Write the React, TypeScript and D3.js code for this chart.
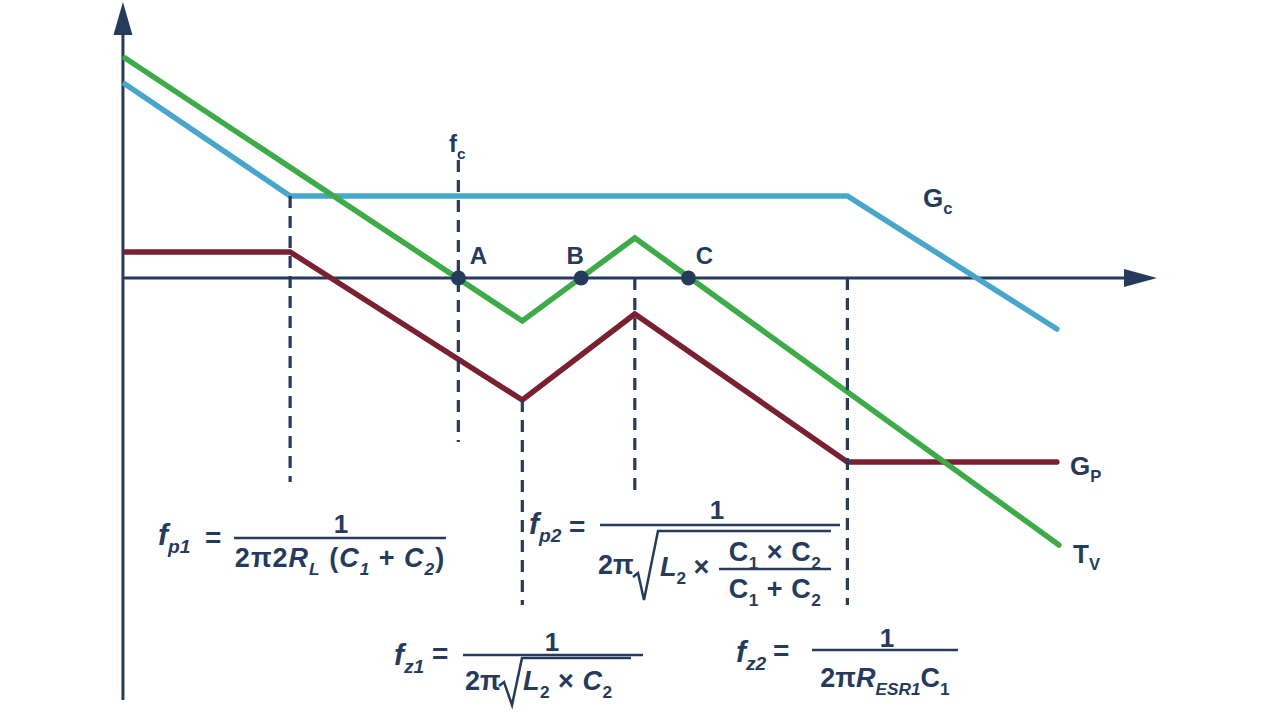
import React from "react";
import * as d3 from "d3";

const W = 1280;
const H = 722;
const NAVY = "#263b5c";
const GREEN = "#3dab47";
const BLUE = "#47a6c9";
const RED = "#7a2131";
const FONT = "'Liberation Sans', Arial, Helvetica, sans-serif";

// break frequencies, log-frequency position (decades, arbitrary origin)
const fp1 = 1.6;
const fc = 3.23;
const fz1 = 3.85;
const fp2 = 4.94;
const fz2 = 7.0;

// asymptotic gains (dB)
const tvX = [0, fz1, fp2, 9.05];
const tvY = [22, -4.3, 4.0, -26.7];
const gcX = [0, fp1, fz2, 9.03];
const gcY = [19.4, 8.2, 8.2, -5.1];
const gpX = [0, fp1, fz1, fp2, fz2, 9.03];
const gpY = [2.6, 2.6, -12.2, -3.6, -18.4, -18.4];

// dashed guides at the break frequencies
const guideX = [fp1, fc, fz1, fp2, fz2];
const guideTop = [8.2, 11.8, -12.2, 0, 0];
const guideBottom = [-20.4, -16.4, -32.7, -21.2, -32.7];

// 0 dB crossings of Tv
const crossNames = ["A", "B", "C"];
const crossX = [fc, 4.42, 5.46];

type Part = { t: string; i?: boolean; sub?: boolean };
const n = (t: string): Part => ({ t });
const it = (t: string): Part => ({ t, i: true });
const sb = (t: string): Part => ({ t, sub: true });
const sbi = (t: string): Part => ({ t, sub: true, i: true });

const Txt: React.FC<{
  x: number;
  y: number;
  size: number;
  parts: Part[];
  anchor?: string;
  ls?: number;
}> = ({ x, y, size, parts, anchor = "start", ls = 0 }) => {
  let inSub = false;
  const sh = size * 0.28;
  return (
    <text
      x={x}
      y={y}
      fontSize={size}
      textAnchor={anchor}
      letterSpacing={ls}
      fill={NAVY}
      fontWeight="bold"
      fontFamily={FONT}
      style={{ whiteSpace: "pre" }}
    >
      {parts.map((p, k) => {
        let dy = 0;
        if (p.sub && !inSub) {
          dy = sh;
          inSub = true;
        } else if (!p.sub && inSub) {
          dy = -sh;
          inSub = false;
        }
        return (
          <tspan
            key={k}
            dy={dy || undefined}
            fontSize={p.sub ? size * 0.64 : undefined}
            fontStyle={p.i ? "italic" : undefined}
          >
            {p.t}
          </tspan>
        );
      })}
    </text>
  );
};

const App: React.FC = () => {
  const x = d3.scaleLinear().domain([0, 10]).range([125, 1157]);
  const y = d3.scaleLinear().domain([-40, 20]).range([678, 78]);

  const line = d3
    .line<[number, number]>()
    .x((d) => x(d[0]))
    .y((d) => y(d[1]));

  const series = [
    { xs: gpX, ys: gpY, color: RED },
    { xs: gcX, ys: gcY, color: BLUE },
    { xs: tvX, ys: tvY, color: GREEN },
  ];

  const ax0 = x(-0.02);
  const y0 = y(0);
  const xTip = x(10);
  const yTop = y(27.6);
  const yBottom = y(-42.2);

  const frac = (x1: number, x2: number, yy: number) => (
    <line x1={x1} x2={x2} y1={yy} y2={yy} stroke={NAVY} strokeWidth={2.5} />
  );

  return (
    <svg
      width={W}
      height={H}
      style={{ position: "absolute", left: 0, top: 0, background: "#fff" }}
    >
      {/* axes */}
      <line x1={ax0} x2={xTip - 20} y1={y0} y2={y0} stroke={NAVY} strokeWidth={3} />
      <polygon
        points={`${xTip},${y0} ${xTip - 33},${y0 - 9} ${xTip - 33},${y0 + 9}`}
        fill={NAVY}
      />
      <line x1={ax0} x2={ax0} y1={yBottom} y2={yTop + 20} stroke={NAVY} strokeWidth={3} />
      <polygon
        points={`${ax0},${yTop} ${ax0 - 9.5},${yTop + 33} ${ax0 + 9.5},${yTop + 33}`}
        fill={NAVY}
      />

      {/* curves */}
      {series.map((s, k) => (
        <path
          key={k}
          d={line(s.xs.map((v, j) => [v, s.ys[j]] as [number, number])) || ""}
          fill="none"
          stroke={s.color}
          strokeWidth={5.5}
          strokeLinecap="round"
          strokeLinejoin="miter"
        />
      ))}

      {/* dashed guides */}
      {guideX.map((g, k) => (
        <line
          key={k}
          x1={x(g)}
          x2={x(g)}
          y1={y(guideTop[k])}
          y2={y(guideBottom[k])}
          stroke={NAVY}
          strokeWidth={3.2}
          strokeDasharray="12 8"
        />
      ))}

      {/* crossing points */}
      {crossX.map((c, k) => (
        <g key={k}>
          <circle cx={x(c)} cy={y0} r={7.5} fill={NAVY} />
          <text
            x={x(c) + (k === 0 ? 20 : k === 1 ? -6 : 16)}
            y={y0 - 14}
            textAnchor="middle"
            fontSize={24}
            fontWeight="bold"
            fontFamily={FONT}
            fill={NAVY}
          >
            {crossNames[k]}
          </text>
        </g>
      ))}

      {/* labels */}
      <Txt x={449} y={152} size={24} parts={[n("f"), sb("c")]} />
      <Txt x={923} y={207} size={26} parts={[n("G"), sb("c")]} />
      <Txt x={1070} y={475} size={26} parts={[n("G"), sb("P")]} />
      <Txt x={1073} y={563} size={26} parts={[n("T"), sb("V")]} />

      {/* fp1 */}
      <Txt x={158} y={545} size={30} parts={[it("f"), sbi("p1")]} />
      <Txt x={205} y={547} size={28} parts={[n("=")]} />
      {frac(234, 446, 538)}
      <Txt x={341} y={533} size={26} anchor="middle" parts={[n("1")]} />
      <Txt
        x={340}
        y={567}
        size={27}
        anchor="middle"
        ls={1}
        parts={[n("2π2"), it("R"), sbi("L"), n(" ("), it("C"), sbi("1"), n(" + "), it("C"), sbi("2"), n(")")]}
      />

      {/* fp2 */}
      <Txt x={529} y={534} size={30} parts={[it("f"), sbi("p2")]} />
      <Txt x={569} y={536} size={28} parts={[n("=")]} />
      {frac(600, 840, 525)}
      <Txt x={717} y={519} size={26} anchor="middle" parts={[n("1")]} />
      <Txt x={598} y={574} size={27} parts={[n("2π")]} />
      <path
        d="M633,577 L638,573 L644,600 L658,531 L831,531"
        fill="none"
        stroke={NAVY}
        strokeWidth={2.5}
      />
      <Txt x={660} y={576} size={27} parts={[it("L"), sb("2"), n(" ×")]} />
      {frac(719, 831, 569)}
      <Txt x={775} y={561} size={27} anchor="middle" ls={0.5} parts={[n("C"), sb("1"), n(" × C"), sb("2")]} />
      <Txt x={775} y={598} size={27} anchor="middle" ls={0.5} parts={[n("C"), sb("1"), n(" + C"), sb("2")]} />

      {/* fz1 */}
      <Txt x={394} y={665} size={30} parts={[it("f"), sbi("z1")]} />
      <Txt x={432} y={663} size={28} parts={[n("=")]} />
      {frac(463, 643, 655)}
      <Txt x={552} y={651} size={26} anchor="middle" parts={[n("1")]} />
      <Txt x={465} y={690} size={27} parts={[n("2π")]} />
      <path
        d="M499,686 L504,682 L512,705 L522,658 L631,658"
        fill="none"
        stroke={NAVY}
        strokeWidth={2.5}
      />
      <Txt x={523} y={690} size={27} ls={0.5} parts={[it("L"), sb("2"), n(" × "), it("C"), sb("2")]} />

      {/* fz2 */}
      <Txt x={736} y={662} size={30} parts={[it("f"), sbi("z2")]} />
      <Txt x={773} y={660} size={28} parts={[n("=")]} />
      {frac(812, 958, 650)}
      <Txt x={887} y={647} size={26} anchor="middle" parts={[n("1")]} />
      <Txt
        x={885}
        y={687}
        size={27}
        anchor="middle"
        parts={[n("2π"), it("R"), sbi("ESR1"), n("C"), sb("1")]}
      />
    </svg>
  );
};

export default App;
